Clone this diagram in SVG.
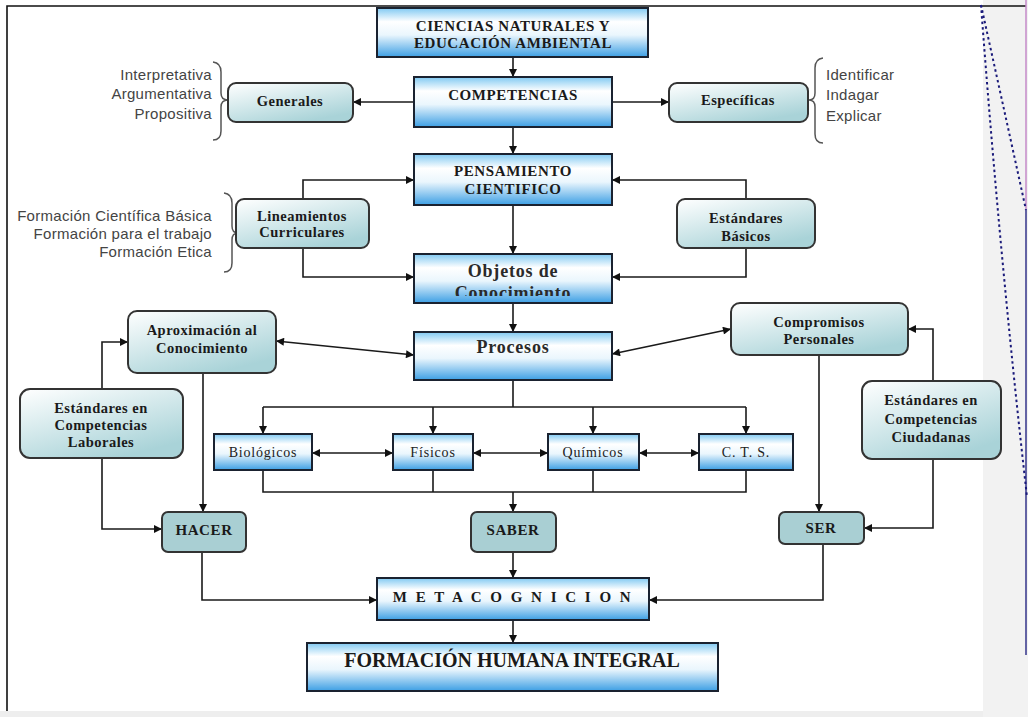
<svg xmlns="http://www.w3.org/2000/svg" width="1028" height="717" viewBox="0 0 1028 717">
<defs>
<linearGradient id="gBlue" x1="0" y1="0" x2="0" y2="1">
<stop offset="0" stop-color="#80c9f2"/>
<stop offset="0.28" stop-color="#ffffff"/>
<stop offset="0.55" stop-color="#eaf6fd"/>
<stop offset="1" stop-color="#3d9fe4"/>
</linearGradient>
<linearGradient id="gTeal" x1="0" y1="0" x2="0.6" y2="1">
<stop offset="0" stop-color="#ffffff"/>
<stop offset="1" stop-color="#a9d3d8"/>
</linearGradient>
<marker id="a" viewBox="0 0 10 10" refX="10" refY="5" markerWidth="9" markerHeight="8" markerUnits="userSpaceOnUse" orient="auto-start-reverse">
<path d="M0,0 L10,5 L0,10 z" fill="#111"/>
</marker>
<clipPath id="clipObj"><rect x="415" y="255" width="196" height="41"/></clipPath>
<style>
.box{fill:url(#gBlue);stroke:#1a2230;stroke-width:2}
.rbox{fill:url(#gTeal);stroke:#333;stroke-width:2}
.sbox{fill:#a9cfd3;stroke:#333;stroke-width:2}
.t{font-family:"Liberation Serif","Times New Roman",serif;font-weight:bold;text-anchor:middle;fill:#1a1a1a}
.big{font-size:15px;letter-spacing:0.6px}
.mid{font-size:14.5px;letter-spacing:0.5px}
.obj{font-family:"Liberation Serif","Times New Roman",serif;font-weight:bold;text-anchor:middle;fill:#2a2a2a;font-size:18px;letter-spacing:0.8px}
.reg{font-family:"Liberation Serif","Times New Roman",serif;text-anchor:middle;fill:#222}
.sm{font-size:14px;letter-spacing:0.8px}
.s{font-family:"Liberation Sans",Arial,sans-serif;font-size:15px;letter-spacing:0.3px;fill:#444}
.c{fill:none;stroke:#1a1a1a;stroke-width:1.6}
.ca{fill:none;stroke:#1a1a1a;stroke-width:1.6;marker-end:url(#a)}
.cb{fill:none;stroke:#1a1a1a;stroke-width:1.6;marker-end:url(#a);marker-start:url(#a)}
.br{fill:none;stroke:#555;stroke-width:1.5}
.dot{fill:none;stroke:#1a1a7a;stroke-width:2;stroke-dasharray:2.5,3}
</style>
</defs>
<rect x="0" y="0" width="1028" height="717" fill="#ffffff"/>
<rect x="983" y="0" width="45" height="717" fill="#f2f2f2"/>
<rect x="0" y="711" width="983" height="6" fill="#eeeeee"/>
<g id="page-frame">
<path d="M7,711 V6 H1026" fill="none" stroke="#111" stroke-width="1.6"/>
<path d="M1026,0 V210" stroke="#c48ac8" stroke-width="1.5"/>
<path d="M1026,210 V655" stroke="#33338a" stroke-width="1.5"/>
<path class="dot" d="M981,5 Q1002,100 1026,210"/>
<path class="dot" d="M981,5 Q1000,260 1027,497"/>
</g>

<g id="connectors">
<path class="ca" d="M513,57 V77"/>
<path class="ca" d="M414,102 H353"/>
<path class="ca" d="M612,102 H669"/>
<path class="ca" d="M513,127 V154"/>
<path class="ca" d="M513,205 V254"/>
<path class="ca" d="M303,199 V180 H414"/>
<path class="ca" d="M303,248 V277 H414"/>
<path class="ca" d="M746,199 V180 H612"/>
<path class="ca" d="M746,248 V277 H612"/>
<path class="ca" d="M513,303 V332"/>
<path class="cb" d="M276,341 L414,355"/>
<path class="cb" d="M731,329 L612,354"/>
<path class="ca" d="M102,389 V342 H128"/>
<path class="ca" d="M102,458 V529 H162"/>
<path class="ca" d="M203,373 V512"/>
<path class="ca" d="M933,381 V329 H908"/>
<path class="ca" d="M933,459 V528 H864"/>
<path class="ca" d="M819,355 V512"/>
<path class="c" d="M513,380 V407 M263,407 H746"/>
<path class="ca" d="M263,407 V434"/>
<path class="ca" d="M433,407 V434"/>
<path class="ca" d="M593,407 V434"/>
<path class="ca" d="M746,407 V434"/>
<path class="cb" d="M312,453 H393"/>
<path class="cb" d="M473,453 H548"/>
<path class="cb" d="M639,453 H699"/>
<path class="c" d="M263,470 V492 H746 V470 M433,470 V492 M593,470 V492"/>
<path class="ca" d="M513,492 V512"/>
<path class="ca" d="M202,552 V600 H377"/>
<path class="ca" d="M513,552 V578"/>
<path class="ca" d="M823,544 V600 H649"/>
<path class="ca" d="M513,620 V643"/>
</g>

<g id="brace-generales">
<path class="br" d="M213,62 Q221,63 221,72 V93 Q221,100 228,100 Q221,100 221,107 V131 Q221,140 213,140"/>
<text class="s" x="212" y="80" text-anchor="end">Interpretativa</text>
<text class="s" x="212" y="99" text-anchor="end">Argumentativa</text>
<text class="s" x="212" y="119" text-anchor="end">Propositiva</text>
</g>
<g id="brace-lineamientos">
<path class="br" d="M224,193 Q232,194 232,203 V226 Q232,233 238,233 Q232,233 232,240 V263 Q232,272 224,272"/>
<text class="s" x="212" y="221" text-anchor="end">Formación Científica Básica</text>
<text class="s" x="212" y="239" text-anchor="end">Formación para el trabajo</text>
<text class="s" x="212" y="257" text-anchor="end">Formación Etica</text>
</g>
<g id="brace-especificas">
<path class="br" d="M823,58 Q815,59 815,68 V93 Q815,100 809,100 Q815,100 815,107 V134 Q815,143 823,143"/>
<text class="s" x="826" y="80">Identificar</text>
<text class="s" x="826" y="100">Indagar</text>
<text class="s" x="826" y="121">Explicar</text>
</g>

<g id="n-ciencias">
<rect class="box" x="377" y="8" width="271" height="49"/>
<text class="t big" x="513" y="31">CIENCIAS NATURALES Y</text>
<text class="t big" x="513" y="48">EDUCACIÓN AMBIENTAL</text>
</g>
<g id="n-competencias">
<rect class="box" x="414" y="77" width="198" height="50"/>
<text class="t big" x="513" y="100">COMPETENCIAS</text>
</g>
<g id="n-pensamiento">
<rect class="box" x="414" y="154" width="198" height="51"/>
<text class="t big" x="513" y="176">PENSAMIENTO</text>
<text class="t big" x="513" y="194">CIENTIFICO</text>
</g>
<g id="n-objetos">
<rect class="box" x="414" y="254" width="198" height="49"/>
<text class="obj" x="513" y="277">Objetos de</text>
<text class="obj" x="513" y="299" clip-path="url(#clipObj)">Conocimiento</text>
</g>
<g id="n-procesos">
<rect class="box" x="414" y="332" width="198" height="48"/>
<text class="obj" x="513" y="353">Procesos</text>
</g>
<g id="n-generales">
<rect class="rbox" x="228" y="83" width="125" height="39" rx="8"/>
<text class="t mid" x="290" y="106">Generales</text>
</g>
<g id="n-especificas">
<rect class="rbox" x="669" y="83" width="139" height="39" rx="8"/>
<text class="t mid" x="738" y="105">Específicas</text>
</g>
<g id="n-lineamientos">
<rect class="rbox" x="236" y="199" width="133" height="49" rx="8"/>
<text class="t mid" x="302" y="221">Lineamientos</text>
<text class="t mid" x="302" y="237">Curriculares</text>
</g>
<g id="n-basicos">
<rect class="rbox" x="677" y="199" width="138" height="49" rx="8"/>
<text class="t mid" x="746" y="223">Estándares</text>
<text class="t mid" x="746" y="241">Básicos</text>
</g>
<g id="n-aproximacion">
<rect class="rbox" x="128" y="311" width="148" height="62" rx="9"/>
<text class="t mid" x="202" y="335">Aproximación al</text>
<text class="t mid" x="202" y="353">Conocimiento</text>
</g>
<g id="n-laborales">
<rect class="rbox" x="20" y="389" width="163" height="69" rx="10"/>
<text class="t mid" x="101" y="413">Estándares en</text>
<text class="t mid" x="101" y="430">Competencias</text>
<text class="t mid" x="101" y="447">Laborales</text>
</g>
<g id="n-compromisos">
<rect class="rbox" x="731" y="303" width="177" height="52" rx="9"/>
<text class="t mid" x="819" y="327">Compromisos</text>
<text class="t mid" x="819" y="344">Personales</text>
</g>
<g id="n-ciudadanas">
<rect class="rbox" x="862" y="381" width="139" height="78" rx="10"/>
<text class="t mid" x="931" y="405">Estándares en</text>
<text class="t mid" x="931" y="424">Competencias</text>
<text class="t mid" x="931" y="442">Ciudadanas</text>
</g>
<g id="n-biologicos">
<rect class="box" x="214" y="434" width="98" height="36"/>
<text class="reg sm" x="263" y="457">Biológicos</text>
</g>
<g id="n-fisicos">
<rect class="box" x="393" y="434" width="80" height="36"/>
<text class="reg sm" x="433" y="457">Físicos</text>
</g>
<g id="n-quimicos">
<rect class="box" x="548" y="434" width="91" height="36"/>
<text class="reg sm" x="593" y="457">Químicos</text>
</g>
<g id="n-cts">
<rect class="box" x="699" y="434" width="94" height="36"/>
<text class="reg sm" x="746" y="457">C. T. S.</text>
</g>
<g id="n-hacer">
<rect class="sbox" x="162" y="512" width="84" height="40" rx="6"/>
<text class="t big" x="204" y="535">HACER</text>
</g>
<g id="n-saber">
<rect class="sbox" x="471" y="512" width="85" height="40" rx="6"/>
<text class="t big" x="513" y="535">SABER</text>
</g>
<g id="n-ser">
<rect class="sbox" x="779" y="512" width="85" height="32" rx="6"/>
<text class="t big" x="821" y="533">SER</text>
</g>
<g id="n-metacognicion">
<rect class="box" x="377" y="578" width="272" height="42"/>
<text class="t" x="513" y="602" font-size="15" letter-spacing="2.5">M E T A C O G N I C I O N</text>
</g>
<g id="n-formacion">
<rect class="box" x="307" y="643" width="411" height="48"/>
<text class="t" x="512" y="667" font-size="20">FORMACIÓN HUMANA INTEGRAL</text>
</g>
</svg>
